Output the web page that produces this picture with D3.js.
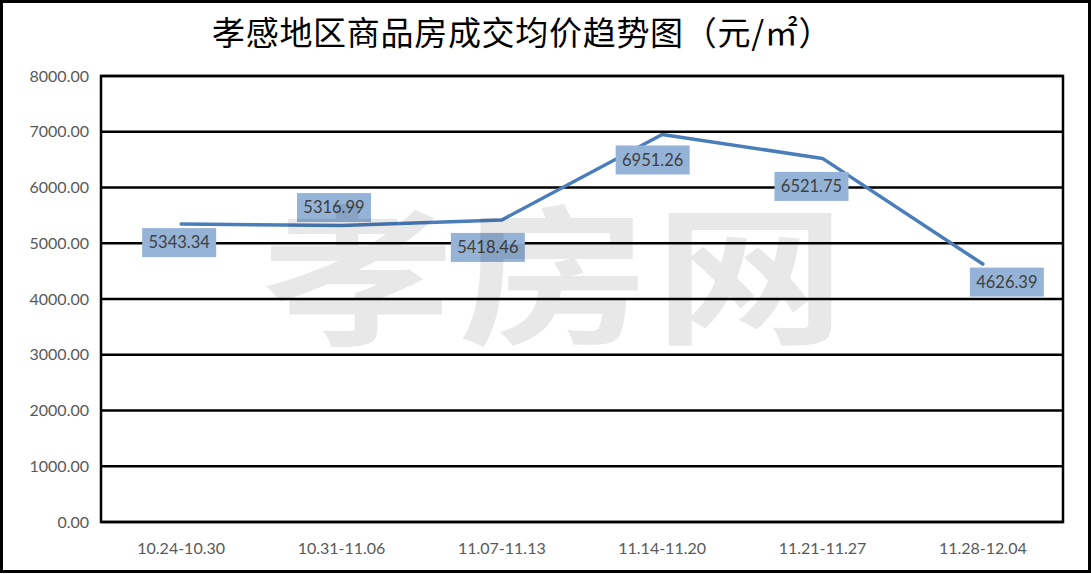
<!DOCTYPE html>
<html>
<head>
<meta charset="utf-8">
<script src="https://cdn.jsdelivr.net/npm/d3@7"></script>
<style>
  html, body { margin: 0; padding: 0; background: #fff; }
  svg { display: block; }
  .tick-label { font-family: Lato, "Open Sans", sans-serif; font-size: 16px; fill: #595959; }
  .point-label { font-family: Lato, "Open Sans", sans-serif; font-size: 16.5px; fill: #404040; }
</style>
</head>
<body>
<script>
// chart data
const categories = ["10.24-10.30", "10.31-11.06", "11.07-11.13", "11.14-11.20", "11.21-11.27", "11.28-12.04"];
const prices = [5343.34, 5316.99, 5418.46, 6951.26, 6521.75, 4626.39];
const yTicks = [0, 1000, 2000, 3000, 4000, 5000, 6000, 7000, 8000];
const title = "孝感地区商品房成交均价趋势图（元/㎡）";

// hand placed label boxes (offset of box centre from point)
const labelOffsets = [[-2, 18.5], [-7.5, -18], [-14, 27.5], [-9.5, 25.5], [-11, 28], [24, 18]];

const width = 1091, height = 574;
const plot = { left: 101, right: 1063, top: 76, bottom: 522 };

const svg = d3.select("body").append("svg")
  .attr("width", width)
  .attr("height", height);

// outer frame
svg.append("rect")
  .attr("x", 1.5).attr("y", 1.5)
  .attr("width", width - 3).attr("height", height - 4)
  .attr("fill", "#fff")
  .attr("stroke", "#000")
  .attr("stroke-width", 3);

// title
svg.append("text")
  .attr("x", 212).attr("y", 45)
  .style("font-family", "'Noto Sans CJK SC', sans-serif")
  .style("font-size", "33px")
  .style("letter-spacing", "0.7px")
  .style("fill", "#000")
  .text(title);

const x = d3.scaleBand()
  .domain(categories)
  .range([plot.left, plot.right]);

const y = d3.scaleLinear()
  .domain([0, 8000])
  .range([plot.bottom, plot.top]);

const px = d => x(d) + x.bandwidth() / 2;

// gridlines
svg.append("g")
  .selectAll("line")
  .data(yTicks)
  .enter()
  .append("line")
  .attr("x1", plot.left).attr("x2", plot.right)
  .attr("y1", d => y(d)).attr("y2", d => y(d))
  .attr("stroke", "#000")
  .attr("stroke-width", 2.5);

// plot border
svg.append("rect")
  .attr("x", plot.left).attr("y", plot.top)
  .attr("width", plot.right - plot.left)
  .attr("height", plot.bottom - plot.top)
  .attr("fill", "none")
  .attr("stroke", "#000")
  .attr("stroke-width", 2.5);

// y axis labels
svg.append("g")
  .selectAll("text")
  .data(yTicks)
  .enter()
  .append("text")
  .attr("class", "tick-label")
  .attr("x", 89)
  .attr("y", d => y(d))
  .attr("dy", "0.35em")
  .attr("text-anchor", "end")
  .text(d => d3.format(".2f")(d));

// x axis labels
svg.append("g")
  .selectAll("text")
  .data(categories)
  .enter()
  .append("text")
  .attr("class", "tick-label")
  .attr("x", d => px(d))
  .attr("y", 548)
  .attr("dy", "0.35em")
  .attr("text-anchor", "middle")
  .text(d => d);

// price line
const line = d3.line()
  .x((d, i) => px(categories[i]))
  .y(d => y(d));

svg.append("path")
  .datum(prices)
  .attr("d", line)
  .attr("fill", "none")
  .attr("stroke", "#4a7ebb")
  .attr("stroke-width", 3.5)
  .attr("stroke-linejoin", "round")
  .attr("stroke-linecap", "round");

// data labels
const labels = svg.append("g")
  .selectAll("g")
  .data(prices)
  .enter()
  .append("g")
  .attr("transform", (d, i) => "translate(" + (px(categories[i]) + labelOffsets[i][0]) + "," + (y(d) + labelOffsets[i][1]) + ")");

labels.append("rect")
  .attr("x", -37).attr("y", -14.5)
  .attr("width", 74).attr("height", 29)
  .attr("fill", "#95b3d7");

labels.append("text")
  .attr("class", "point-label")
  .attr("text-anchor", "middle")
  .attr("dy", "0.35em")
  .text(d => d3.format(".2f")(d));

// watermark over everything
svg.append("text")
  .attr("transform", "translate(556,278) scale(1.02,0.8)")
  .attr("text-anchor", "middle")
  .attr("dy", "0.36em")
  .style("font-family", "'Noto Sans CJK SC', sans-serif")
  .style("font-weight", "bold")
  .style("font-size", "188px")
  .style("letter-spacing", "4px")
  .style("fill", "#000")
  .style("fill-opacity", 0.09)
  .text("孝房网");
</script>
</body>
</html>
